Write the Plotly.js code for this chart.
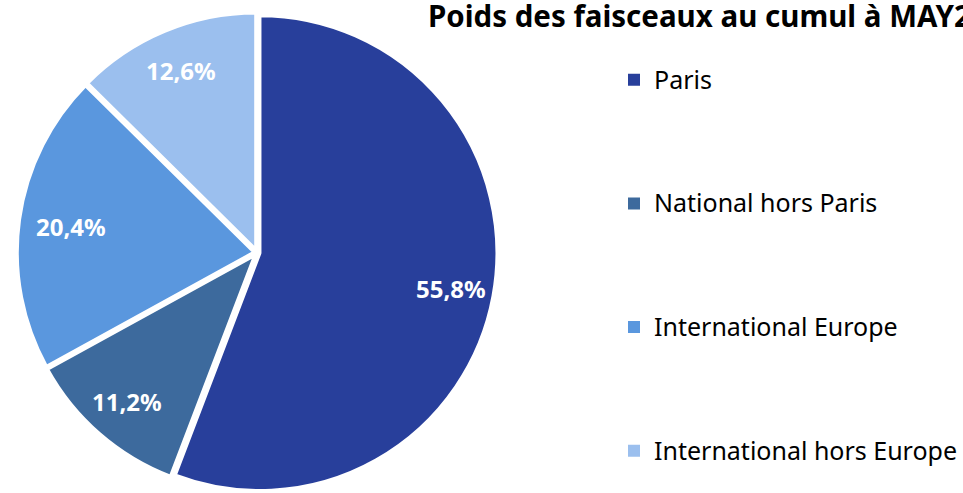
<!DOCTYPE html>
<html>
<head>
<meta charset="utf-8">
<script src="https://cdn.plot.ly/plotly-3.0.1.min.js"></script>
<style>
  html, body { margin: 0; padding: 0; background: #fff; }
  #chart { width: 963px; height: 493px; }
</style>
</head>
<body>
<div id="chart"></div>
<script>
// data
var labels = ['Paris', 'National hors Paris', 'International Europe', 'International hors Europe'];
var shares = [55.8, 11.2, 20.4, 12.6];
var colors = ['#283f9b', '#3d6a9d', '#5a97de', '#9bbfee'];

var FONT = '"Noto Sans", "Open Sans", sans-serif';

// label in a bigger span, then blank lines so the legend entries get spread out
// (the last one needs no padding below it)
var legendLabels = labels.map(function (l, i) {
    var pad = i < labels.length - 1 ? '<br> <br> <br> ' : '';
    return '<span style="font-size:25px">' + l + '</span>' + pad;
});

var pulls = [0.01, 0.01, 0.01, 0.01];

var trace = {
    type: 'pie',
    labels: legendLabels,
    values: shares,
    sort: false,
    direction: 'clockwise',
    rotation: 0,
    pull: pulls,
    marker: {
        colors: colors,
        line: { color: '#ffffff', width: 4 }
    },
    textinfo: 'none',
    hoverinfo: 'percent',
    domain: { x: [0, 0.534], y: [0, 0.975] }
};

var layout = {
    width: 963,
    height: 493,
    margin: { l: 0, r: 0, t: 0, b: 0 },
    paper_bgcolor: '#ffffff',
    title: {
        text: 'Poids des faisceaux au cumul à MAY2019',
        font: { family: FONT, size: 29.5, color: '#000000', weight: 'bold' },
        x: 0.4444,
        xanchor: 'left',
        y: 0.9655,
        yanchor: 'middle'
    },
    showlegend: true,
    legend: {
        x: 0.6376,
        xanchor: 'left',
        y: 0.882,
        yanchor: 'top',
        valign: 'top',
        font: { family: FONT, size: 23.2, color: '#000000' },
        bgcolor: 'rgba(0,0,0,0)'
    }
};

// percentage labels sit out towards the rim like in the original,
// placed from the slice geometry plotly computed
function addSliceLabels(gd) {
    var cd = gd.calcdata[0];
    var cx = cd[0].cx, cy = cd[0].cy;
    var w = gd._fullLayout.width, h = gd._fullLayout.height;
    var ann = cd.map(function (pt) {
        var k = (pt.i === 2 ? 0.78 : 0.82) + pulls[pt.i];
        return {
            xref: 'paper', yref: 'paper',
            x: (cx + pt.pxmid[0] * k) / w,
            y: 1 - (cy + pt.pxmid[1] * k) / h,
            xanchor: 'center', yanchor: 'middle',
            text: shares[pt.i].toFixed(1).replace('.', ',') + '%',
            showarrow: false,
            font: { family: FONT, size: 24, color: '#ffffff', weight: 'bold' }
        };
    });
    return Plotly.relayout(gd, { annotations: ann });
}

// bigger legend squares, like the original
function growLegendSquares(gd) {
    gd.querySelectorAll('.legend path').forEach(function (p) {
        p.style.transform = 'translate(20px, 0px) scale(1.5)';
    });
    return gd;
}

Plotly.newPlot('chart', [trace], layout, { displayModeBar: false, staticPlot: true })
    .then(function (gd) {
        gd.on('plotly_afterplot', function () { growLegendSquares(gd); });
        return addSliceLabels(gd);
    })
    .then(growLegendSquares);
</script>
</body>
</html>
